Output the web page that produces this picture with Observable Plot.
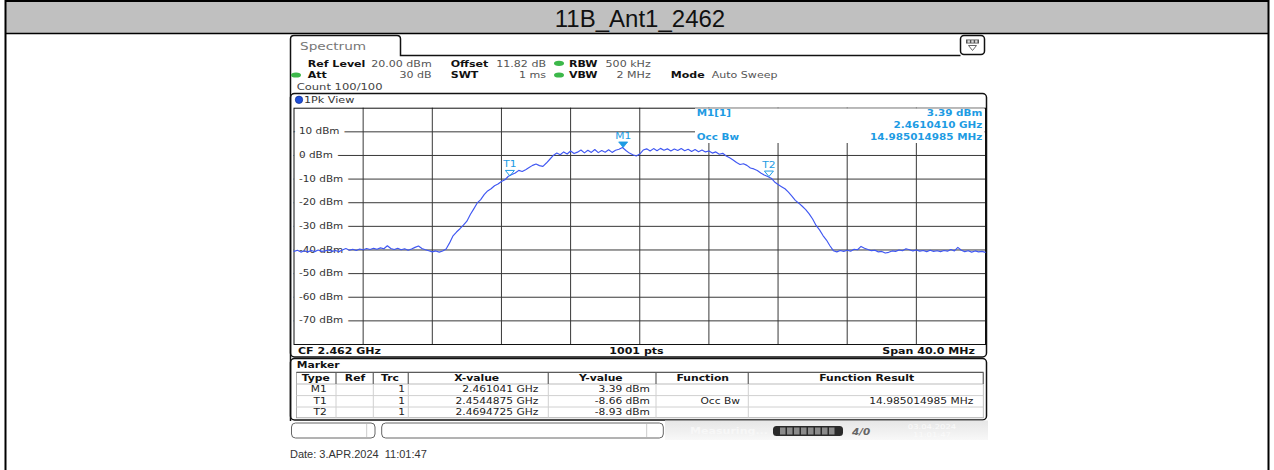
<!DOCTYPE html>
<html><head><meta charset="utf-8">
<script src="https://cdn.jsdelivr.net/npm/d3@7"></script>
<script src="https://cdn.jsdelivr.net/npm/@observablehq/plot@0.6"></script>
<style>
body{margin:0;background:#fff;}
#page{position:relative;width:1274px;height:470px;overflow:hidden;}
#plot{position:absolute;left:290px;top:104px;}
#deco{position:absolute;left:0;top:0;pointer-events:none;}
</style></head><body><div id="page"><div id="plot"></div></div>
<script>
// ---------- data ----------
const chartTitle = "11B_Ant1_2462";
const startMHz = 2442, stopMHz = 2482, stepMHz = 0.2;
const levels = [
-40.6,-40.1,-40.9,-40.3,-40.8,-40.2,-40.7,-40.0,-40.6,-40.4,
-40.0,-40.6,-40.2,-40.7,-40.0,-39.4,-40.1,-39.7,-40.2,-39.6,
-39.9,-39.4,-39.8,-39.3,-39.7,-39.1,-39.5,-38.2,-39.4,-39.8,
-39.3,-39.9,-39.5,-40.1,-39.6,-38.9,-38.3,-39.4,-39.9,-40.3,
-40.8,-40.4,-40.9,-40.4,-39.6,-37.0,-34.0,-32.4,-31.0,-29.5,
-27.8,-25.0,-22.6,-20.1,-18.7,-16.6,-15.0,-14.1,-12.8,-12.1,
-11.0,-10.3,-8.8,-8.1,-7.4,-6.3,-6.8,-6.0,-5.1,-4.2,
-3.6,-4.3,-4.6,-3.2,-1.6,0.0,1.0,0.3,1.5,0.6,
1.9,0.8,1.4,2.3,1.1,2.2,1.3,2.5,1.2,2.1,
1.4,2.4,1.3,2.2,2.6,3.39,2.1,1.0,0.3,-0.2,
0.6,2.3,2.8,1.9,2.9,2.0,3.0,2.2,2.8,1.9,
2.7,2.1,2.9,2.0,2.6,1.7,2.5,1.6,2.3,1.5,
1.9,1.0,1.5,0.5,0.9,-0.2,-1.0,-1.9,-3.0,-3.8,
-3.5,-4.2,-5.3,-5.7,-6.4,-7.4,-8.3,-8.9,-9.6,-11.2,
-12.3,-13.2,-14.1,-15.5,-17.2,-19.0,-20.2,-21.5,-22.9,-24.7,
-26.9,-29.6,-31.5,-33.9,-35.8,-38.2,-40.3,-40.8,-40.2,-40.6,
-40.1,-40.5,-39.7,-39.9,-38.5,-39.3,-39.8,-40.3,-40.1,-40.8,
-40.6,-41.3,-41.0,-40.4,-40.6,-40.0,-40.3,-39.5,-39.9,-40.4,
-40.0,-40.5,-40.2,-40.7,-40.1,-40.6,-40.3,-40.7,-40.2,-40.5,
-39.8,-40.4,-38.9,-40.1,-40.7,-40.3,-40.9,-40.4,-40.8,-40.6,
-41.0];
const xGrid = [2446,2450,2454,2458,2462,2466,2470,2474,2478];
const yGrid = [10,0,-10,-20,-30,-40,-50,-60,-70];
const yTickLabels = ["10 dBm","0 dBm","-10 dBm","-20 dBm","-30 dBm","-40 dBm","-50 dBm","-60 dBm","-70 dBm"];

const markerTypes = ["M1","T1","T2"];
const markerTrc = ["1","1","1"];
const markerXGHz = [2.461041, 2.4544875, 2.4694725];
const markerXText = ["2.461041 GHz","2.4544875 GHz","2.4694725 GHz"];
const markerYdBm = [3.39, -8.66, -8.93];
const markerYText = ["3.39 dBm","-8.66 dBm","-8.93 dBm"];
const markerFunc = ["","Occ Bw",""];
const markerResult = ["","14.985014985 MHz",""];
const tableHeads = ["Type","Ref","Trc","X-value","Y-value","Function","Function Result"];

const settingNames = ["Ref Level","Offset","RBW","Att","SWT","VBW","Mode"];
const settingValues = ["20.00 dBm","11.82 dB","500 kHz","30 dB","1 ms","2 MHz","Auto Sweep"];
const countText = "Count 100/100";
const viewText = "1Pk View";
const tabText = "Spectrum";
const footLeft = "CF 2.462 GHz", footMid = "1001 pts", footRight = "Span 40.0 MHz";
const infoLines = [["M1[1]","3.39 dBm"],["","2.4610410 GHz"],["Occ Bw","14.985014985 MHz"]];
const dateText = "Date: 3.APR.2024\u00a0 11:01:47";

// ---------- plot ----------
const FONT = "DejaVu Sans";
const traceColor = "#3f57f2";
const mkColor = "#1d9be3";
const trace = levels.map((v, i) => ({f: startMHz + i * stepMHz, v}));
const markers = markerTypes.map((t, i) => ({type: t, f: markerXGHz[i] * 1000, v: markerYdBm[i]}));
const yLab = yGrid.map((v, i) => ({v, t: yTickLabels[i]}));
const downTri = {draw(ctx) { ctx.moveTo(-4.5, -5.5); ctx.lineTo(4.5, -5.5); ctx.lineTo(0, 0); ctx.closePath(); }};

const plot = Plot.plot({
  width: 700, height: 244,
  marginLeft: 3.5, marginRight: 5, marginTop: 3.7, marginBottom: 4,
  x: {domain: [startMHz, stopMHz], axis: null},
  y: {domain: [-80, 20], axis: null},
  style: {background: "transparent", overflow: "visible"},
  marks: [
    Plot.ruleX(xGrid, {stroke: "#383838", strokeWidth: 1}),
    Plot.ruleY(yGrid, {stroke: "#383838", strokeWidth: 1}),
    Plot.text(yLab, {y: "v", text: "t", frameAnchor: "left", dx: 5, textAnchor: "start",
      fill: "#333", stroke: "white", strokeWidth: 9, fontSize: 8, fontFamily: FONT}),
    Plot.frame({stroke: "#111", strokeWidth: 1}),
    Plot.line(trace, {x: "f", y: "v", stroke: traceColor, strokeWidth: 1.15}),
    Plot.dot(markers.filter(d => d.type[0] === "M"), {x: "f", y: "v", symbol: downTri, fill: mkColor, stroke: mkColor, strokeWidth: 0.8}),
    Plot.dot(markers.filter(d => d.type[0] !== "M"), {x: "f", y: "v", symbol: downTri, fill: "none", stroke: mkColor, strokeWidth: 1}),
    Plot.text(markers, {x: "f", y: "v", text: "type", dy: -11.5, fill: mkColor, fontSize: 8.2, fontFamily: FONT})
  ]
});
document.getElementById("plot").appendChild(plot);
plot.querySelectorAll("text").forEach(t => {
  const L = t.getComputedTextLength();
  t.setAttribute("textLength", L * 1.3);
  t.setAttribute("lengthAdjust", "spacingAndGlyphs");
});

// ---------- decoration ----------
const NS = "http://www.w3.org/2000/svg";
const deco = document.createElementNS(NS, "svg");
deco.setAttribute("width", 1274); deco.setAttribute("height", 470); deco.id = "deco";
document.getElementById("page").appendChild(deco);
function E(tag, attrs, parent = deco) {
  const e = document.createElementNS(NS, tag);
  for (const k in attrs) e.setAttribute(k, attrs[k]);
  parent.appendChild(e); return e;
}
const stretchList = [];
function T(x, y, s, o = {}) {
  const e = E("text", {x, y, "font-family": o.font || FONT, "font-size": o.size || 8.3,
    "font-weight": o.bold ? "bold" : "normal", fill: o.fill || "#222", "text-anchor": o.anchor || "start"});
  if (o.italic) e.setAttribute("font-style", "italic");
  e.textContent = s;
  if (o.k !== 0) stretchList.push([e, o.k || 1.3]);
  return e;
}

// outer frame & title bar
E("rect", {x: 5, y: 0, width: 1264, height: 33, fill: "#c0c0c0"});
E("line", {x1: 5, x2: 1269, y1: 1, y2: 1, stroke: "#000", "stroke-width": 2});
E("line", {x1: 5, x2: 1269, y1: 33.5, y2: 33.5, stroke: "#000", "stroke-width": 1.5});
E("line", {x1: 5.5, x2: 5.5, y1: 0, y2: 470, stroke: "#000", "stroke-width": 2});
E("line", {x1: 1268.5, x2: 1268.5, y1: 0, y2: 470, stroke: "#000", "stroke-width": 2});
T(640, 26.5, chartTitle, {font: "Liberation Sans", size: 24, anchor: "middle", fill: "#111", k: 0});

// tab + screen border
E("path", {d: "M290.5,421 V39 Q290.5,35.5 294,35.5 H397 Q400.5,35.5 400.5,39 V55.5 H960.5", fill: "none", stroke: "#111", "stroke-width": 1.5});
T(300, 50, tabText, {size: 10.5, fill: "#777"});
E("rect", {x: 960.5, y: 35.5, width: 24, height: 19, rx: 3.5, fill: "#fff", stroke: "#111", "stroke-width": 1.5});
E("rect", {x: 966, y: 39.5, width: 13, height: 4, fill: "#555"});
for (let i = 0; i < 3; i++) E("rect", {x: 967.5 + i * 3.8, y: 40.3, width: 2.4, height: 2.4, fill: "#ddd"});
E("path", {d: "M968.5,45.5 L976.5,45.5 L972.5,50.5 Z", fill: "none", stroke: "#666", "stroke-width": 1});

// settings header
const nameX = [307.7, 450.7, 569, 307.7, 450.7, 569, 670.7];
const nameY = [66.5, 66.5, 66.5, 78, 78, 78, 78];
const valX = [431.7, 546, 650.7, 431.7, 546, 650.7, 711.7];
const valAnchor = ["end", "end", "end", "end", "end", "end", "start"];
settingNames.forEach((s, i) => T(nameX[i], nameY[i], s, {bold: true, size: 8.5, fill: "#111"}));
settingValues.forEach((s, i) => T(valX[i], nameY[i], s, {size: 8.5, fill: "#555", anchor: valAnchor[i]}));
[[559, 63.3], [296, 75], [559, 75]].forEach(([cx, cy]) => E("ellipse", {cx, cy, rx: 5, ry: 2.6, fill: "#3cb84a"}));
T(296.7, 89.7, countText, {size: 8.9, fill: "#444"});

// 1Pk view window
E("rect", {x: 290.5, y: 93.5, width: 696, height: 263.5, rx: 4, fill: "none", stroke: "#111", "stroke-width": 1.5});
E("circle", {cx: 299, cy: 99.8, r: 3.7, fill: "#1f4fd8", stroke: "#0a2a90", "stroke-width": 0.7});
T(304, 103.2, viewText, {size: 8.6, fill: "#333"});
T(298, 353.5, footLeft, {bold: true, size: 8.5, fill: "#111"});
T(636.5, 353.5, footMid, {bold: true, size: 8.5, fill: "#111", anchor: "middle"});
T(975, 353.5, footRight, {bold: true, size: 8.5, fill: "#111", anchor: "end"});

// marker info box (covers graticule)
E("rect", {x: 695, y: 108.4, width: 289.5, height: 34.6, fill: "#fff"});
const infoY = [116.2, 128, 139.6];
infoLines.forEach(([a, b], i) => {
  if (a) T(696.7, infoY[i], a, {bold: true, size: 8, fill: mkColor});
  T(982.3, infoY[i], b, {bold: true, size: 8, fill: mkColor, anchor: "end"});
});

// marker table window
E("rect", {x: 290.5, y: 358.5, width: 696, height: 61.5, rx: 4, fill: "none", stroke: "#111", "stroke-width": 1.5});
T(296.7, 367.5, "Marker", {bold: true, size: 8.3, fill: "#111"});
E("rect", {x: 296.5, y: 372.3, width: 687, height: 45.5, fill: "#fff", stroke: "#999", "stroke-width": 0.8});
E("line", {x1: 296.5, x2: 983.5, y1: 372.3, y2: 372.3, stroke: "#444", "stroke-width": 1});
E("line", {x1: 296.5, x2: 983.5, y1: 384, y2: 384, stroke: "#bbb", "stroke-width": 1});
E("line", {x1: 296.5, x2: 983.5, y1: 395.6, y2: 395.6, stroke: "#d0d0d0", "stroke-width": 1});
E("line", {x1: 296.5, x2: 983.5, y1: 407, y2: 407, stroke: "#d0d0d0", "stroke-width": 1});
const sepX = [336, 373.3, 408.3, 548.3, 656, 748.3, 983.3];
sepX.forEach(x => {
  E("line", {x1: x, x2: x, y1: 373, y2: 384, stroke: "#777", "stroke-width": 1.4});
  E("line", {x1: x, x2: x, y1: 384, y2: 417.5, stroke: "#d0d0d0", "stroke-width": 1});
});
const headCX = [315.8, 355, 390, 476.7, 600.8, 702.8, 866.7];
tableHeads.forEach((h, i) => T(headCX[i], 381.2, h, {bold: true, size: 8.3, fill: "#111", anchor: "middle"}));
const rowY = [392.2, 403.8, 415.2];
markerTypes.forEach((t, i) => {
  T(326.7, rowY[i], t, {size: 8.2, fill: "#222", anchor: "end"});
  T(405, rowY[i], markerTrc[i], {size: 8.2, fill: "#222", anchor: "end"});
  T(538.3, rowY[i], markerXText[i], {size: 8.2, fill: "#222", anchor: "end"});
  T(650, rowY[i], markerYText[i], {size: 8.2, fill: "#222", anchor: "end"});
  if (markerFunc[i]) T(740, rowY[i], markerFunc[i], {size: 8.2, fill: "#222", anchor: "end"});
  if (markerResult[i]) T(973.3, rowY[i], markerResult[i], {size: 8.2, fill: "#222", anchor: "end"});
});

// status bar
E("rect", {x: 291.5, y: 423, width: 83.5, height: 15, rx: 4, fill: "#fff", stroke: "#666", "stroke-width": 1});
E("line", {x1: 366.7, x2: 366.7, y1: 424, y2: 437, stroke: "#ccc"});
E("rect", {x: 381.7, y: 423, width: 281.6, height: 15, rx: 4, fill: "#fff", stroke: "#666", "stroke-width": 1});
E("line", {x1: 646.7, x2: 646.7, y1: 424, y2: 437, stroke: "#ccc"});
const defs = E("defs", {});
const lg = E("linearGradient", {id: "sb", x1: 0, y1: 0, x2: 0, y2: 1}, defs);
E("stop", {offset: 0, "stop-color": "#e6e6e6"}, lg);
E("stop", {offset: 1, "stop-color": "#f8f8f8"}, lg);
E("rect", {x: 665, y: 420.5, width: 323, height: 19.5, fill: "url(#sb)"});
T(690, 434, "Measuring...", {size: 8.5, fill: "#f7f7f7", bold: true});
E("rect", {x: 773, y: 426, width: 70, height: 10, rx: 3.5, fill: "#2a2a2a"});
for (let i = 0; i < 8; i++) E("rect", {x: 780 + i * 7, y: 427.5, width: 5.5, height: 7, fill: "#8a8a8a"});
T(852, 435, "4/0", {size: 8, fill: "#666", bold: true, italic: true});
T(932, 428.5, "03.04.2024", {size: 6.5, fill: "#fafafa", anchor: "middle"});
T(932, 436.5, "11:01:47", {size: 6.5, fill: "#fafafa", anchor: "middle"});

// date line
T(290, 457.5, dateText, {font: "Liberation Sans", size: 11, fill: "#333", k: 0});

stretchList.forEach(([e, k]) => {
  const L = e.getComputedTextLength();
  e.setAttribute("textLength", L * k);
  e.setAttribute("lengthAdjust", "spacingAndGlyphs");
});
</script></body></html>
